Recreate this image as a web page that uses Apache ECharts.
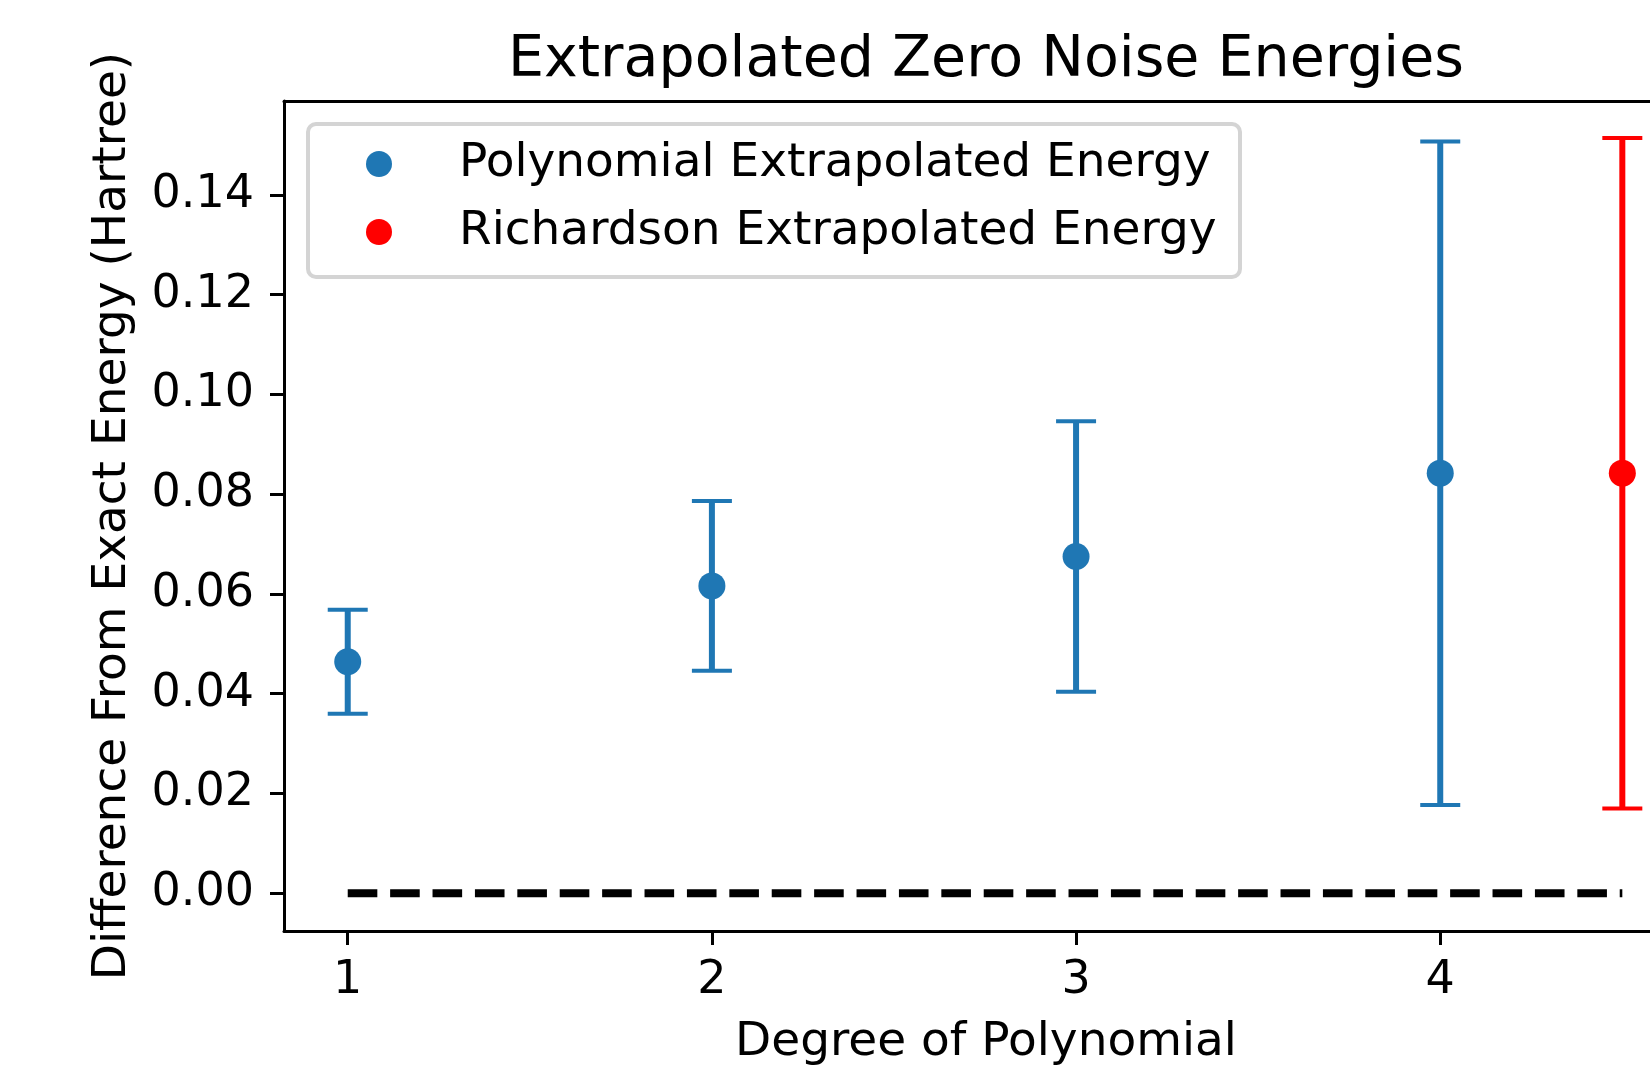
<!DOCTYPE html>
<html>
<head>
<meta charset="utf-8">
<script src="https://cdn.jsdelivr.net/npm/echarts@6/dist/echarts.min.js"></script>
<style>
html,body{margin:0;padding:0;background:#fff;}
#chart{width:1650px;height:1072px;}
</style>
</head>
<body>
<div id="chart"></div>
<script>
// ---- data ----
const degrees = [1, 2, 3, 4];
const polyEnergy = [0.0464, 0.0616, 0.0675, 0.0842];
const polyError = [0.0104, 0.0170, 0.0271, 0.0665];
const richDegree = [4.5];
const richEnergy = [0.0842];
const richError = [0.0672];
const exactLineX = [1, 4.5];
const exactLineY = [0, 0];
const xTicks = [1, 2, 3, 4];
const yTicks = [0, 0.02, 0.04, 0.06, 0.08, 0.10, 0.12, 0.14];
const seriesNames = ['Polynomial Extrapolated Energy', 'Richardson Extrapolated Energy'];
const titleText = 'Extrapolated Zero Noise Energies';
const xLabel = 'Degree of Polynomial';
const yLabel = 'Difference From Exact Energy (Hartree)';

const FONT = 'DejaVu Sans';
const BLUE = '#1f77b4';
const RED = '#ff0000';

const polyPts = degrees.map((d, i) => [d, polyEnergy[i]]);
const polyErr = degrees.map((d, i) => [d, polyEnergy[i] - polyError[i], polyEnergy[i] + polyError[i]]);
const richPts = richDegree.map((d, i) => [d, richEnergy[i]]);
const richErr = richDegree.map((d, i) => [d, richEnergy[i] - richError[i], richEnergy[i] + richError[i]]);
const linePts = exactLineX.map((x, i) => [x, exactLineY[i]]);

function errRender(color) {
  return function (params, api) {
    const x = api.value(0), lo = api.value(1), hi = api.value(2);
    const a = api.coord([x, lo]), b = api.coord([x, hi]);
    const cw = 20;
    return {
      type: 'group',
      children: [
        {type: 'line', shape: {x1: a[0], y1: a[1], x2: b[0], y2: b[1]}, style: {stroke: color, lineWidth: 6}},
        {type: 'line', shape: {x1: a[0] - cw, y1: a[1], x2: a[0] + cw, y2: a[1]}, style: {stroke: color, lineWidth: 4}},
        {type: 'line', shape: {x1: b[0] - cw, y1: b[1], x2: b[0] + cw, y2: b[1]}, style: {stroke: color, lineWidth: 4}}
      ]
    };
  };
}

const chart = echarts.init(document.getElementById('chart'), null, {renderer: 'canvas'});
chart.setOption({
  animation: false,
  backgroundColor: '#ffffff',
  grid: {left: 284, top: 101, right: 0, bottom: 141, show: false},
  graphic: [
    {type: 'text', x: 986, y: 61, z: 10,
     style: {text: titleText, fontFamily: FONT, fontSize: 57, fill: '#000', textAlign: 'center', textVerticalAlign: 'middle'}},
    {type: 'text', x: 986, y: 1043, z: 10,
     style: {text: xLabel, fontFamily: FONT, fontSize: 47, fill: '#000', textAlign: 'center', textVerticalAlign: 'middle'}},
    {type: 'rect', shape: {x: 308, y: 124, width: 932, height: 153, r: 8}, z: 3,
     style: {fill: 'rgba(255,255,255,0.8)', stroke: '#d4d4d4', lineWidth: 4}}
  ],
  legend: {
    data: seriesNames,
    orient: 'vertical',
    left: 361, top: 133,
    itemWidth: 26, itemHeight: 26, itemGap: 16,
    icon: 'circle',
    selectedMode: false,
    z: 5,
    textStyle: {fontFamily: FONT, fontSize: 47, color: '#000', lineHeight: 52, padding: [0, 0, 0, 62]}
  },
  xAxis: [{
    type: 'value', min: 0.825, max: 4.576,
    axisLine: {show: true, onZero: false, lineStyle: {color: '#000', width: 3}},
    axisTick: {show: true, length: 14, lineStyle: {color: '#000', width: 3}, customValues: xTicks},
    axisLabel: {fontFamily: FONT, fontSize: 46, color: '#000', margin: 27, customValues: xTicks, formatter: v => String(v)},
    splitLine: {show: false}
  }, {
    type: 'value', position: 'top', min: 0.825, max: 4.576,
    axisLine: {show: true, onZero: false, lineStyle: {color: '#000', width: 3}},
    axisTick: {show: false}, axisLabel: {show: false}, splitLine: {show: false}
  }],
  yAxis: {
    type: 'value', min: -0.00757, max: 0.1588,
    name: yLabel, nameLocation: 'middle', nameGap: 148, nameRotate: 90,
    nameTextStyle: {fontFamily: FONT, fontSize: 47, color: '#000'},
    axisLine: {show: true, onZero: false, lineStyle: {color: '#000', width: 3}},
    axisTick: {show: true, length: 14, lineStyle: {color: '#000', width: 3}, customValues: yTicks},
    axisLabel: {fontFamily: FONT, fontSize: 46, color: '#000', margin: 30, customValues: yTicks, formatter: v => v.toFixed(2)},
    splitLine: {show: false}
  },
  series: [
    {type: 'line', data: linePts, symbol: 'none', z: 1, silent: true,
     lineStyle: {color: '#000', width: 8, type: [29.6, 12.8]}},
    {type: 'custom', data: polyErr, renderItem: errRender(BLUE), z: 2, silent: true},
    {type: 'custom', data: richErr, renderItem: errRender(RED), z: 2, silent: true},
    {name: seriesNames[0], type: 'scatter', data: polyPts, symbolSize: 27, z: 4, itemStyle: {color: BLUE, opacity: 1}},
    {name: seriesNames[1], type: 'scatter', data: richPts, symbolSize: 27, z: 4, itemStyle: {color: RED, opacity: 1}}
  ]
});
</script>
</body>
</html>
